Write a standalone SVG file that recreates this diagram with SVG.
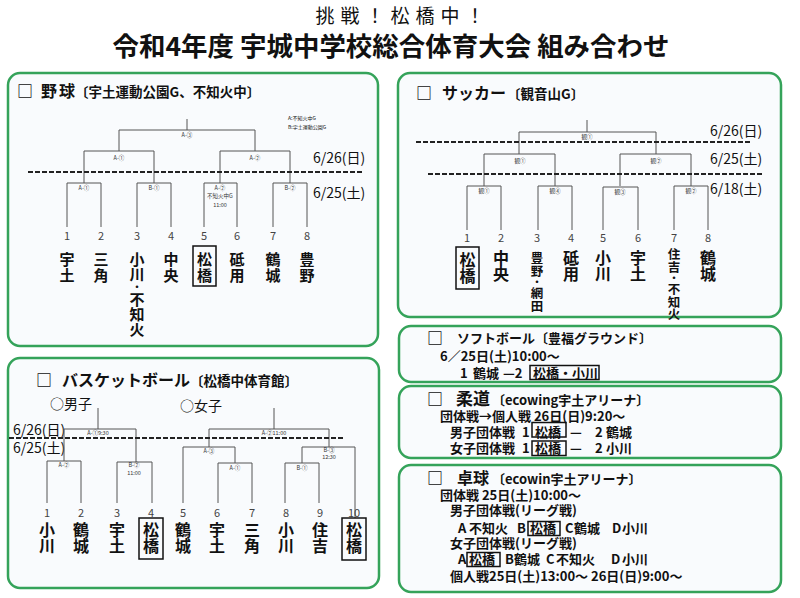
<svg xmlns="http://www.w3.org/2000/svg" width="800" height="598" viewBox="0 0 800 598">
<style>
text{font-family:"Noto Sans CJK JP","Noto Sans",sans-serif;fill:#111}
.panel{fill:#f9fbfd;stroke:#35a35a;stroke-width:2.5}
.ln{fill:none;stroke:#555;stroke-width:1}
.dash{fill:none;stroke:#222;stroke-width:2;stroke-dasharray:5 2}
.sm{font-size:5.5px;fill:#333;text-anchor:middle}
.num{font-size:11px;fill:#444;text-anchor:middle}
.v{writing-mode:vertical-rl;font-weight:700}
.v15{font-size:15px;letter-spacing:1px}
.v15n{font-size:15px}
.v16{font-size:16px}
.v12{font-size:12.5px}
.dot{font-size:10px}
.date{font-size:14px}
.sq{font-size:16px;font-weight:700}
.h16{font-size:16px;font-weight:700}
.h17{font-size:17px;font-weight:700}
.h13{font-size:13.5px;font-weight:700}
.b13{font-size:13px;font-weight:700}
.box{fill:none;stroke:#111;stroke-width:1.5}
</style>
<rect width="800" height="598" fill="#fff"/>
<g id="title">
<text x="400" y="23" text-anchor="middle" font-size="19" textLength="169" lengthAdjust="spacing">挑戦！松橋中！</text>
<text x="391" y="56" text-anchor="middle" font-size="26" font-weight="700" textLength="557" lengthAdjust="spacingAndGlyphs">令和4年度 宇城中学校総合体育大会 組み合わせ</text>
</g>

<!-- Baseball -->
<g id="baseball">
<rect class="panel" x="8" y="73" width="370" height="273" rx="12"/>
<text class="sq" x="17" y="97">□</text>
<text class="h16" y="97"><tspan x="41">野</tspan><tspan x="59">球</tspan></text>
<text class="h13" x="75" y="97">〔宇土運動公園G、不知火中〕</text>
<text x="288" y="120" font-size="5">A:不知火中G</text>
<text x="288" y="129" font-size="5">B:宇土運動公園G</text>
<text class="date" x="313" y="163">6/26(日)</text>
<text class="date" x="313" y="198">6/25(土)</text>
<g id="baseball-connectors">
<path class="ln" d="M187,119 V130 M119,151 V130 H255 V151 M84,183 V151 H154 V183 M220,183 V151 H290 V183"/>
<path class="ln" d="M67,227 V183 H101 V227 M137,227 V183 H171 V227 M204,227 V183 H237 V227 M273,227 V183 H307 V227"/>
<path class="dash" d="M28,172 H364"/>
</g>
<text class="sm" x="187" y="137">A-③</text>
<text class="sm" x="119" y="160">A-①</text>
<text class="sm" x="255" y="160">A-②</text>
<text class="sm" x="84" y="190">A-①</text>
<text class="sm" x="154" y="190">B-①</text>
<text class="sm" x="220" y="190">A-②</text>
<text class="sm" x="220" y="198">不知火中G</text>
<text class="sm" x="220" y="207" font-size="6.5">11:00</text>
<text class="sm" x="290" y="190">B-②</text>
<g id="bb-t1"><text class="num" x="67" y="240">1</text><text class="v v15" x="67" y="252">宇土</text></g>
<g id="bb-t2"><text class="num" x="101" y="240">2</text><text class="v v15" x="101" y="252">三角</text></g>
<g id="bb-t3"><text class="num" x="137" y="240">3</text><text class="v v15n" x="137" y="252">小川<tspan class="dot">・</tspan>不知火</text></g>
<g id="bb-t4"><text class="num" x="171" y="240">4</text><text class="v v15" x="171" y="252">中央</text></g>
<g id="bb-t5"><text class="num" x="204" y="240">5</text><rect class="box" x="193" y="246" width="23" height="40"/><text class="v v15" x="204.5" y="252">松橋</text></g>
<g id="bb-t6"><text class="num" x="237" y="240">6</text><text class="v v15" x="237" y="252">砥用</text></g>
<g id="bb-t7"><text class="num" x="273" y="240">7</text><text class="v v15" x="273" y="252">鶴城</text></g>
<g id="bb-t8"><text class="num" x="307" y="240">8</text><text class="v v15" x="307" y="252">豊野</text></g>
</g>

<!-- Soccer -->
<g id="soccer">
<rect class="panel" x="398" y="73" width="383" height="244" rx="12"/>
<text class="sq" x="416" y="99">□</text>
<text class="h16" x="442" y="99">サッカー</text>
<text class="h13" x="507" y="99">〔観音山G〕</text>
<text class="date" x="710" y="136">6/26(日)</text>
<text class="date" x="710" y="164">6/25(土)</text>
<text class="date" x="710" y="194">6/18(土)</text>
<g id="soccer-connectors">
<path class="ln" d="M587,120 V132 M519,154 V132 H656 V154 M484,186 V154 H555 V186 M620,186 V154 H691 V186"/>
<path class="ln" d="M467,230 V186 H501 V230 M538,230 V186 H572 V230 M603,230 V187 H638 V230 M674,230 V186 H708 V230"/>
<path class="dash" d="M416,142 H752 M428,174 H764"/>
</g>
<text class="sm" x="587" y="139">観①</text>
<text class="sm" x="520" y="163">観①</text>
<text class="sm" x="656" y="163">観②</text>
<text class="sm" x="484" y="193">観①</text>
<text class="sm" x="555" y="193">観④</text>
<text class="sm" x="620" y="194">観③</text>
<text class="sm" x="691" y="193">観②</text>
<g id="sc-t1"><text class="num" x="467" y="242">1</text><rect class="box" x="456" y="247" width="23" height="42"/><text class="v v16" x="467.5" y="252">松橋</text></g>
<g id="sc-t2"><text class="num" x="501" y="242">2</text><text class="v v16" x="501" y="250">中央</text></g>
<g id="sc-t3"><text class="num" x="537" y="242">3</text><text class="v v12" x="537" y="252">豊野<tspan class="dot">・</tspan>網田</text></g>
<g id="sc-t4"><text class="num" x="571" y="242">4</text><text class="v v16" x="571" y="250">砥用</text></g>
<g id="sc-t5"><text class="num" x="603" y="242">5</text><text class="v v16" x="603" y="250">小川</text></g>
<g id="sc-t6"><text class="num" x="638" y="242">6</text><text class="v v16" x="638" y="250">宇土</text></g>
<g id="sc-t7"><text class="num" x="674" y="242">7</text><text class="v v12" x="674" y="248">住吉<tspan class="dot">・</tspan>不知火</text></g>
<g id="sc-t8"><text class="num" x="708" y="242">8</text><text class="v v16" x="708" y="250">鶴城</text></g>
</g>

<!-- Basketball -->
<g id="basketball">
<rect class="panel" x="8" y="358" width="371" height="230" rx="12"/>
<text class="sq" x="36" y="386">□</text>
<text class="h16" x="62" y="386">バスケットボール</text>
<text class="h13" x="190" y="386">〔松橋中体育館〕</text>
<text x="50" y="409" font-size="14">○男子</text>
<text x="180" y="411" font-size="14">○女子</text>
<text class="date" x="13" y="435">6/26(日)</text>
<text class="date" x="13" y="453">6/25(土)</text>
<g id="basketball-connectors">
<path class="ln" d="M98,408 V429 M64,461 V429 H136 V462 M47,503 V461 H81 V503 M117,503 V462 H152 V503"/>
<path class="ln" d="M274,408 V429 M209,447 V429 H329 V447 M183,503 V447 H235 V463 M218,503 V463 H252 V503 M302,463 V447 H355 V518 M285,503 V463 H319 V503"/>
<path class="dash" d="M9,438 H345"/>
</g>
<text class="sm" x="98" y="435">A-①9:30</text>
<text class="sm" x="274" y="435">A-②11:00</text>
<text class="sm" x="209" y="453">A-③</text>
<text class="sm" x="329" y="452">B-③</text>
<text class="sm" x="329" y="459" font-size="6">12:30</text>
<text class="sm" x="64" y="467">A-②</text>
<text class="sm" x="134" y="467">B-②</text>
<text class="sm" x="134" y="475" font-size="6">11:00</text>
<text class="sm" x="235" y="470">A-①</text>
<text class="sm" x="302" y="470">B-①</text>
<g id="bk-t1"><text class="num" x="47" y="517">1</text><text class="v v16" x="47" y="522">小川</text></g>
<g id="bk-t2"><text class="num" x="81" y="517">2</text><text class="v v16" x="81" y="522">鶴城</text></g>
<g id="bk-t3"><text class="num" x="117" y="517">3</text><text class="v v16" x="117" y="522">宇土</text></g>
<g id="bk-t4"><text class="num" x="151" y="517">4</text><rect class="box" x="139" y="518" width="24" height="41"/><text class="v v16" x="151" y="522">松橋</text></g>
<g id="bk-t5"><text class="num" x="183" y="517">5</text><text class="v v16" x="183" y="522">鶴城</text></g>
<g id="bk-t6"><text class="num" x="217" y="517">6</text><text class="v v16" x="217" y="522">宇土</text></g>
<g id="bk-t7"><text class="num" x="252" y="517">7</text><text class="v v16" x="252" y="522">三角</text></g>
<g id="bk-t8"><text class="num" x="286" y="517">8</text><text class="v v16" x="286" y="522">小川</text></g>
<g id="bk-t9"><text class="num" x="320" y="517">9</text><text class="v v16" x="320" y="522">住吉</text></g>
<g id="bk-t10"><text class="num" x="354" y="517">10</text><rect class="box" x="342" y="518" width="24" height="42"/><text class="v v16" x="354" y="522">松橋</text></g>
</g>

<!-- Softball -->
<g id="softball">
<rect class="panel" x="399" y="326" width="382" height="56" rx="12"/>
<text class="sq" x="427" y="344">□</text>
<text class="b13" x="457" y="343">ソフトボール〔豊福グラウンド〕</text>
<text class="b13" x="440" y="361">6／25日(土)10:00～</text>
<rect class="box" x="530" y="365.5" width="69" height="14"/>
<text class="b13" y="378"><tspan x="460">1</tspan><tspan x="473">鶴城</tspan><tspan x="503">—2</tspan><tspan x="533">松橋・小川</tspan></text>
</g>

<!-- Judo -->
<g id="judo">
<rect class="panel" x="399" y="386" width="382" height="72" rx="12"/>
<text class="sq" x="427" y="405">□</text>
<text class="h17" x="456" y="405">柔道</text>
<text class="b13" x="492" y="405">〔ecowing宇土アリーナ〕</text>
<text class="b13" x="440" y="421">団体戦→個人戦 26日(日)9:20～</text>
<rect class="box" x="532" y="422.5" width="34" height="14.5"/>
<rect class="box" x="532" y="441" width="34" height="14.5"/>
<text class="b13" y="437"><tspan x="450">男子団体戦</tspan><tspan x="522">1</tspan><tspan x="535">松橋</tspan><tspan x="570">—</tspan><tspan x="595">2</tspan><tspan x="606">鶴城</tspan></text>
<text class="b13" y="453"><tspan x="450">女子団体戦</tspan><tspan x="522">1</tspan><tspan x="535">松橋</tspan><tspan x="570">—</tspan><tspan x="595">2</tspan><tspan x="606">小川</tspan></text>
</g>

<!-- Table tennis -->
<g id="tabletennis">
<rect class="panel" x="399" y="465" width="382" height="127" rx="12"/>
<text class="sq" x="427" y="484">□</text>
<text class="h16" x="457" y="484">卓球</text>
<text class="b13" x="492" y="484">〔ecowin宇土アリーナ〕</text>
<text class="b13" x="440" y="500">団体戦 25日(土)10:00～</text>
<text class="b13" x="450" y="515">男子団体戦(リーグ戦)</text>
<rect class="box" x="528" y="521.5" width="32" height="14"/>
<text class="b13" y="533"><tspan x="458">A</tspan><tspan x="469">不知火</tspan><tspan x="517">B</tspan><tspan x="530">松橋</tspan><tspan x="565">C</tspan><tspan x="574">鶴城</tspan><tspan x="612">D</tspan><tspan x="622">小川</tspan></text>
<text class="b13" x="450" y="548">女子団体戦(リーグ戦)</text>
<rect class="box" x="467" y="552.5" width="33" height="14"/>
<text class="b13" y="564"><tspan x="458">A</tspan><tspan x="469">松橋</tspan><tspan x="505">B</tspan><tspan x="514">鶴城</tspan><tspan x="546">C</tspan><tspan x="556">不知火</tspan><tspan x="611">D</tspan><tspan x="622">小川</tspan></text>
<text class="b13" x="450" y="581">個人戦25日(土)13:00～  26日(日)9:00～</text>
</g>
</svg>
